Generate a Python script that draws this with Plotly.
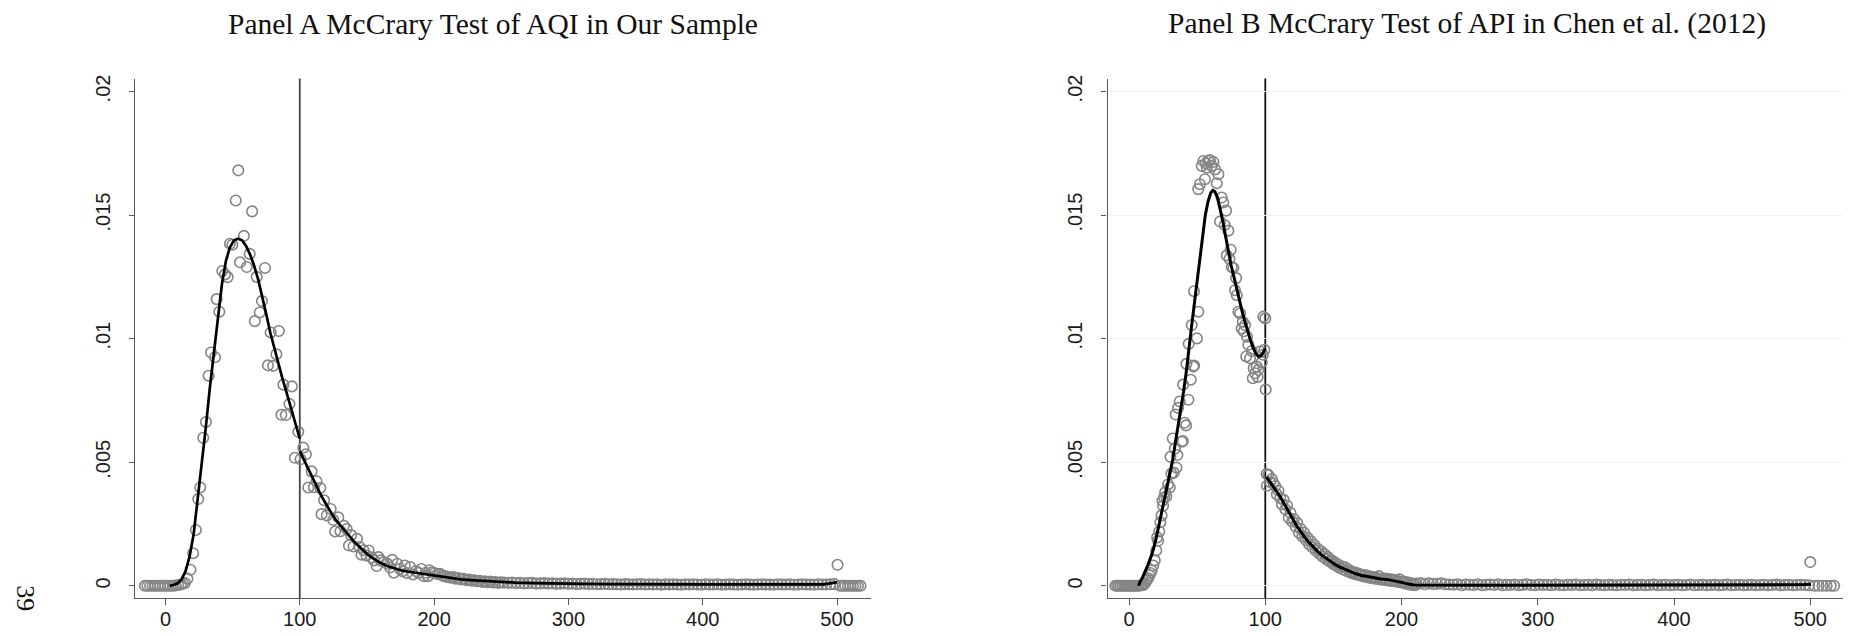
import plotly.graph_objects as go

# ---------------- Data (density values in units of 1e-4) ----------------
DENSITY_UNIT = 1e-4

# Panel A: AQI bins (x) and bin densities
a_bin_x = [-15.3, -13.4, -11.5, -9.6, -7.7, -5.8, -3.9, -2.0, -0.1, 1.8, 3.7, 5.6, 7.5, 9.4, 11.3, 12.9,
           14.5, 16.3, 18.6, 20.6, 22.6, 24.4, 25.9, 28.1, 30.1, 32.1, 33.9, 36.9, 38.1, 40.1, 42.3, 44.3,
           46.3, 48.0, 49.8, 52.3, 54.2, 55.5, 58.4, 60.5, 62.7, 64.5, 66.5, 67.9, 70.2, 71.8, 74.1, 76.3,
           78.3, 80.1, 82.6, 84.4, 86.3, 87.8, 89.6, 92.3, 94.1, 96.3, 98.9, 100.6, 102.6, 104.5, 106.3,
           108.8, 110.5, 112.5, 115.3, 116.2, 118.1, 120.1, 123.0, 124.9, 126.3, 128.7, 130.3, 132.8,
           134.9, 136.6, 138.2, 140.0, 142.6, 144.6, 145.9, 147.5, 149.6, 151.3, 153.4, 155.3, 157.3,
           158.6, 160.2, 162.5, 165.2, 167.2, 168.9, 170.0, 172.6, 174.5, 176.4, 178.2, 179.7, 182.2,
           184.3, 186.5, 188.4, 190.5, 192.5, 193.7, 195.4, 196.5, 198.5, 200.4, 202.5, 204.4, 206.4,
           208.3, 210.3, 212.3, 214.2, 216.2, 218.2, 220.1, 222.1, 224.1, 226.0, 228.0, 230.0, 231.9,
           233.9, 235.9, 237.8, 239.8, 241.8, 243.7, 245.7, 247.7, 249.6,
           252, 255, 258, 261, 264, 267, 270, 273, 276, 279, 282, 285, 288, 291, 294, 297, 300, 303,
           306, 309, 312, 315, 318, 321, 324, 327, 330, 333, 336, 339, 342, 345, 348, 351, 354, 357,
           360, 363, 366, 369, 372, 375, 378, 381, 384, 387, 390, 393, 396, 399, 402, 405, 408, 411,
           414, 417, 420, 423, 426, 429, 432, 435, 438, 441, 444, 447, 450, 453, 456, 459, 462, 465,
           468, 471, 474, 477, 480, 483, 486, 489, 492, 495, 498,
           500.4, 502.3, 504.2, 506.1, 508.0, 509.9, 511.8, 513.7, 515.6, 517.5]
a_density = [0, 0, 0, 0, 0, 0, 0, 0, 0, 0, 0, 0, 0.1, 0.3, 0.5, 0.8,
             1.1, 2.9, 6.5, 13.2, 22.6, 35.1, 39.8, 59.9, 66.3, 85.0, 94.4, 92.5, 116.0, 110.9, 127.4, 126.0,
             124.9, 138.4, 138.0, 155.9, 168.1, 130.9, 141.6, 129.0, 134.3, 151.5, 107.1, 125.0, 110.6, 115.2, 128.6, 89.2,
             102.5, 89.0, 93.7, 103.1, 69.2, 81.4, 69.1, 73.6, 80.7, 51.8, 62.3, 51.2, 55.9, 53.2, 39.8,
             46.3, 39.9, 42.3, 39.6, 29.0, 34.6, 28.5, 31.1, 26.6, 22.0, 27.7, 22.1, 24.3,
             23.0, 16.3, 20.5, 15.9, 19.0, 15.7, 12.6, 14.4, 12.3, 14.3, 11.5, 10.3, 8.0,
             11.6, 10.3, 9.6, 8.9, 7.4, 10.5, 5.3, 8.9, 6.8, 5.9, 8.2, 5.2, 7.6,
             4.6, 6.0, 5.2, 6.8, 3.9, 5.3, 3.9, 6.3, 5.5, 5.2, 4.8, 4.9, 4.1,
             3.8, 3.6, 3.3, 3.5, 2.9, 3.1, 2.6, 2.8, 2.3, 2.5, 2.1, 2.2, 1.9,
             2.0, 1.6, 1.8, 1.5, 1.7, 1.4, 1.5, 1.2, 1.4,
             1.3, 1.2, 1.3, 1.1, 1.2, 1.0, 1.1, 1.2, 0.9, 1.0, 1.1, 0.9, 1.0, 0.8, 0.9, 1.0, 0.8, 0.9,
             0.7, 0.8, 0.9, 0.7, 0.8, 0.6, 0.7, 0.8, 0.6, 0.7, 0.6, 0.5, 0.7, 0.6, 0.5, 0.6, 0.7, 0.5,
             0.6, 0.5, 0.6, 0.4, 0.6, 0.5, 0.6, 0.5, 0.4, 0.6, 0.5, 0.6, 0.5, 0.4, 0.6, 0.5, 0.5, 0.6,
             0.4, 0.5, 0.6, 0.5, 0.4, 0.5, 0.6, 0.5, 0.4, 0.5, 0.6, 0.5, 0.5, 0.4, 0.6, 0.5, 0.5, 0.6,
             0.4, 0.5, 0.6, 0.5, 0.5, 0.4, 0.6, 0.5, 0.5, 0.6, 0.7,
             8.5, 0, 0, 0, 0, 0, 0, 0, 0, 0]

# Panel A: fitted density, left and right of the cutoff
a_fit_left_x = [3, 6, 9, 12, 15, 18, 21, 24, 27, 30, 33, 36, 39, 42, 45, 48, 51, 54, 57, 60, 63, 66,
                69, 72, 75, 78, 81, 84, 87, 90, 93, 96, 99, 100]
a_fit_left_y = [0.0, 0.3, 1.0, 2.6, 6.0, 12.0, 21.0, 35.0, 50.0, 64.0, 80.0, 94.0, 109.0, 122.0, 131.5,
                137.0, 139.8, 140.4, 139.8, 137.5, 134.0, 129.5, 124.0, 117.5, 110.0, 102.5, 96.0, 90.0,
                84.0, 78.5, 73.0, 67.0, 61.5, 59.5]
a_fit_right_x = [100, 103, 106, 109, 112, 115, 118, 121, 124, 127, 130, 133, 136, 139, 142, 145, 148,
                 151, 154, 157, 160, 165, 170, 175, 180, 185, 190, 195, 200, 205, 210, 215, 220, 230,
                 240, 250, 260, 275, 290, 310, 330, 350, 400, 450, 490, 495, 500]
a_fit_right_y = [54.5, 51.0, 47.5, 44.0, 40.5, 37.5, 34.5, 31.5, 29.0, 26.5, 24.5, 22.5, 20.5, 18.8,
                 17.0, 15.4, 13.9, 12.5, 11.3, 10.2, 9.3, 8.0, 7.0, 6.3, 5.8, 5.4, 5.0, 4.7, 4.3, 3.7,
                 3.2, 2.9, 2.6, 2.2, 1.8, 1.5, 1.3, 1.1, 0.9, 0.8, 0.7, 0.6, 0.55, 0.55, 0.6, 1.0, 1.5]

# Panel B: API bins (x) and bin densities
b_bin_x = [-10.0, -8.7, -7.4, -6.1, -4.8, -3.5, -2.2, -0.9, 0.4, 1.7, 3.0, 4.3, 5.6, 6.9, 8.2, 9.5,
           10.5, 11.7, 12.9, 14.0, 14.9, 15.8, 16.6, 17.8, 18.9, 20.0, 20.6, 21.3, 22.2, 23.0, 23.9,
           24.5, 25.0, 25.7, 26.5, 27.4, 28.6, 29.9, 30.4, 31.1, 32.1, 32.8, 33.6, 34.2, 34.8, 35.5,
           36.0, 37.2, 38.7, 39.5, 39.7, 40.8, 41.9, 42.1, 43.6, 43.8, 45.3, 46.0, 47.2, 47.7, 47.8,
           49.8, 50.9,
           50.8, 52.0, 53.4, 54.6, 55.7, 56.4, 57.1, 58.2, 59.4, 60.7, 61.9, 63.2, 64.4, 65.6, 66.8,
           68.0, 69.2, 70.2, 71.2, 71.7, 72.9, 73.7, 74.6, 75.4, 76.6, 77.8, 78.6, 79.1, 80.3, 81.5,
           82.7, 83.5, 84.3, 85.2, 86.0, 86.6, 87.6, 88.8, 90.1, 90.8, 91.5, 92.5, 93.7, 94.4, 94.9,
           96.2, 97.4, 98.2, 98.6, 99.4, 100.0, 100.3,
           101.0, 101.2, 102.3, 103.5, 104.8, 106.0, 107.3, 108.5, 109.7, 111.0, 112.2, 113.5, 114.7,
           116.0, 117.2, 118.5, 119.7, 121.0, 122.2, 123.5, 124.7, 126.0, 127.2, 128.5, 129.7, 131.0,
           132.2, 133.5, 134.7, 136.0, 137.2, 138.5, 139.7, 141.0, 142.2, 143.5, 144.7, 146.0, 147.2,
           148.5, 149.7, 151.0, 152.2, 153.5, 154.7, 156.0, 157.2, 158.5, 159.7, 161.0, 162.2, 163.5,
           164.7, 166.0, 167.2, 168.5, 169.7, 171.0, 172.2, 173.5, 174.7, 176.0, 177.2, 178.5, 179.7,
           181.0, 182.2, 183.5, 184.7, 186.0, 187.2, 188.5, 189.7, 191.0, 192.2, 193.5, 194.7, 196.0,
           197.2, 198.5, 199.7, 201.0, 202.2, 203.5, 204.7, 206.0, 207.2, 208.5, 210.0,
           211, 214, 217, 220, 223, 226, 229, 232, 235, 238, 241, 244, 247, 250, 253, 256, 259, 262,
           265, 268, 271, 274, 277, 280, 283, 286, 289, 292, 295, 298, 301, 304, 307, 310, 313, 316,
           319, 322, 325, 328, 331, 334, 337, 340, 343, 346, 349, 352, 355, 358, 361, 364, 367, 370,
           373, 376, 379, 382, 385, 388, 391, 394, 397, 400, 403, 406, 409, 412, 415, 418, 421, 424,
           427, 430, 433, 436, 439, 442, 445, 448, 451, 454, 457, 460, 463, 466, 469, 472, 475, 478,
           481, 484, 487, 490, 493, 496, 499,
           500.0, 503, 506, 509, 512, 515, 517.5]
b_density = [0, 0, 0, 0, 0, 0, 0, 0, 0, 0, 0, 0, 0, 0, 0.1, 0.2,
             0.3, 1.0, 2.2, 3.0, 4.2, 5.2, 6.2, 8.2, 10.3, 14.3, 19.6, 18.2, 22.0, 25.7, 28.5,
             34.4, 32.4, 35.7, 37.8, 36.1, 41.0, 39.8, 52.2, 45.4, 59.6, 45.8, 55.5, 69.3, 47.8, 52.9,
             72.0, 74.6, 58.3, 58.6, 81.4, 66.0, 64.9, 89.8, 75.3, 97.9, 83.4, 105.5, 88.7, 119.2, 89.1,
             100.1, 110.9,
             160.5, 162.5, 169.9, 171.9, 164.5, 171.0, 169.2, 171.9, 172.3, 169.9, 171.5, 168.5, 162.9, 166.5, 147.4,
             157.1, 155.1, 146.0, 151.8, 133.7, 143.7, 132.3, 136.0, 129.0, 128.6, 119.6, 124.5, 117.6, 110.9, 110.2,
             104.1, 106.8, 103.0, 105.5, 92.8, 100.8, 97.5, 92.1, 95.0, 84.0, 88.0, 86.0, 88.7, 84.5, 87.4,
             94.8, 90.5, 93.5, 108.9, 95.5, 108.2, 79.4,
             45.2, 40.5, 44.8, 42.0, 43.2, 41.5, 40.4, 37.0, 38.5, 35.5, 33.0, 34.8, 31.0,
             32.5, 27.5, 29.5, 26.0, 27.0, 24.0, 25.5, 21.5, 23.0, 20.0, 21.5, 18.5, 19.5,
             16.8, 18.0, 15.5, 16.5, 14.2, 15.0, 13.0, 14.0, 11.8, 12.8, 10.8, 11.6, 9.8,
             10.4, 8.8, 9.5, 8.0, 8.6, 7.2, 7.9, 6.6, 7.5, 6.0, 6.6, 5.4, 5.8,
             4.9, 5.4, 4.5, 5.0, 4.2, 4.5, 3.8, 4.4, 3.5, 3.9, 3.2, 3.6, 3.0,
             3.4, 2.8, 3.9, 2.6, 3.0, 2.4, 2.9, 2.2, 2.7, 2.0, 2.5, 1.9, 2.3,
             1.6, 2.6, 1.4, 1.8, 1.0, 1.5, 0.6, 1.2, 0.3, 0.8, 0.2,
             0.9, 1.1, 0.6, 1.0, 0.7, 0.8, 1.0, 0.6, 0.5, 0.4, 0.6, 0.2, 0.5, 0.4, 0.3, 0.6, 0.2, 0.4,
             0.5, 0.3, 0.6, 0.2, 0.4, 0.3, 0.5, 0.2, 0.4, 0.6, 0.3, 0.2, 0.5, 0.3, 0.4, 0.2, 0.5, 0.3,
             0.2, 0.4, 0.3, 0.5, 0.2, 0.3, 0.4, 0.2, 0.5, 0.3, 0.2, 0.4, 0.3, 0.2, 0.4, 0.3, 0.5, 0.2,
             0.3, 0.4, 0.2, 0.3, 0.5, 0.2, 0.3, 0.4, 0.2, 0.3, 0.4, 0.2, 0.3, 0.5, 0.2, 0.3, 0.4, 0.2,
             0.3, 0.4, 0.2, 0.3, 0.5, 0.2, 0.3, 0.4, 0.2, 0.3, 0.4, 0.2, 0.3, 0.4, 0.2, 0.3, 0.5, 0.2,
             0.3, 0.4, 0.2, 0.3, 0.4, 0.3, 0.2,
             9.6, 0, 0, 0, 0, 0, 0]

# Panel B: fitted density, left and right of the cutoff
b_fit_left_x = [7, 8, 10, 12, 14, 16, 18, 20, 22, 24, 26, 28, 30, 32, 34, 36, 38, 40, 42, 44, 46, 48,
                50, 52, 54, 56, 58, 60, 61.5, 63, 65, 67, 69, 71, 73, 75, 77, 79, 81, 83, 85, 87, 89,
                91, 93, 95, 97, 99, 100]
b_fit_left_y = [0.0, 1.5, 3.5, 5.8, 8.6, 11.6, 15.0, 19.5, 25.0, 30.5, 36.0, 41.0, 45.5, 51.0, 57.5,
                64.5, 71.5, 78.5, 86.5, 95.0, 105.5, 114.5, 123.5, 132.5, 141.5, 150.0, 155.5, 159.0,
                160.0, 159.5, 157.0, 152.5, 147.0, 141.0, 135.0, 129.5, 125.0, 120.0, 115.5, 111.0,
                107.0, 103.0, 99.5, 96.5, 94.0, 92.8, 93.2, 95.0, 96.0]
b_fit_right_x = [101, 103, 105, 107, 109, 111, 113, 115, 117, 119, 121, 123, 125, 127, 129, 131, 133,
                 136, 139, 142, 145, 148, 151, 154, 157, 160, 165, 170, 175, 180, 185, 190, 195, 200,
                 205, 209, 250, 300, 350, 400, 450, 490, 495, 500.5]
b_fit_right_y = [44.0, 42.5, 40.8, 39.0, 37.5, 36.0, 34.0, 32.0, 30.0, 28.0, 26.0, 24.3, 22.7, 21.0,
                 19.6, 18.2, 17.0, 15.2, 13.6, 12.2, 11.0, 9.8, 8.7, 7.8, 7.0, 6.2, 5.1, 4.3, 3.7,
                 3.2, 2.8, 2.5, 2.1, 1.4, 0.7, 0.3, 0.2, 0.2, 0.2, 0.2, 0.2, 0.25, 0.5, 0.6]

cutoff = 100
y_tick_vals = [0, 0.005, 0.01, 0.015, 0.02]
y_tick_text = ["0", ".005", ".01", ".015", ".02"]
x_tick_vals = [0, 100, 200, 300, 400, 500]
x_tick_text = ["0", "100", "200", "300", "400", "500"]

panel_titles = ["Panel A McCrary Test of AQI in Our Sample",
                "Panel B McCrary Test of API in Chen et al. (2012)"]
page_number = "39"


def scale(vals):
    return [v * DENSITY_UNIT for v in vals]


# ---------------- Figure ----------------
# The page body has an 8px default margin, so the figure is sized to fill the
# remaining window and page positions are shifted by that offset.
OFF = 8
W, H = 1854 - OFF, 636 - OFF


def px_x(p):
    return (p - OFF) / W


def px_y(p):
    return 1 - (p - OFF) / H


fig = go.Figure()

MARKER = dict(symbol="circle-open", size=10.5, color="#858585", line=dict(width=1.6, color="#858585"))
LINE_A = dict(color="black", width=2.7)
LINE_B = dict(color="black", width=3.0)

fig.add_trace(go.Scatter(x=a_bin_x, y=scale(a_density), mode="markers", marker=MARKER,
                         xaxis="x", yaxis="y", showlegend=False))
fig.add_trace(go.Scatter(x=a_fit_left_x, y=scale(a_fit_left_y), mode="lines", line=LINE_A,
                         xaxis="x", yaxis="y", showlegend=False))
fig.add_trace(go.Scatter(x=a_fit_right_x, y=scale(a_fit_right_y), mode="lines", line=LINE_A,
                         xaxis="x", yaxis="y", showlegend=False))

fig.add_trace(go.Scatter(x=b_bin_x, y=scale(b_density), mode="markers", marker=MARKER,
                         xaxis="x2", yaxis="y2", showlegend=False))
fig.add_trace(go.Scatter(x=b_fit_left_x, y=scale(b_fit_left_y), mode="lines", line=LINE_B,
                         xaxis="x2", yaxis="y2", showlegend=False))
fig.add_trace(go.Scatter(x=b_fit_right_x, y=scale(b_fit_right_y), mode="lines", line=LINE_B,
                         xaxis="x2", yaxis="y2", showlegend=False))

AX_COLOR = "#5a5a5a"
TICK_FONT = dict(family="Liberation Sans, Arial, sans-serif", size=20, color="#1a1a1a")

y_dom = [px_y(598), px_y(75)]
y_range = [-0.000503, 0.020523]


def xaxis(domain, rng, anchor):
    return dict(domain=domain, range=rng, anchor=anchor, showline=True, linecolor=AX_COLOR,
                linewidth=1.3, ticks="outside", ticklen=6, tickwidth=1.3, tickcolor=AX_COLOR,
                tickvals=x_tick_vals, ticktext=x_tick_text, tickfont=TICK_FONT, showgrid=False,
                zeroline=False, ticklabelstandoff=-3)


def yaxis(rng, anchor, grid):
    return dict(domain=y_dom, range=rng, anchor=anchor, showline=True, linecolor=AX_COLOR,
                linewidth=1.3, ticks="outside", ticklen=5, tickwidth=1.3, tickcolor=AX_COLOR,
                tickvals=y_tick_vals, ticktext=y_tick_text, tickangle=-90, tickfont=TICK_FONT,
                showgrid=grid, gridcolor="#f2f2f2", gridwidth=1, zeroline=False,
                ticklabelstandoff=11)


fig.update_layout(
    width=W, height=H,
    margin=dict(l=0, r=0, t=0, b=0),
    paper_bgcolor="white", plot_bgcolor="white",
    xaxis=xaxis([px_x(135), px_x(871)], [-22.7, 525.3], "y"),
    yaxis=yaxis(y_range, "x", False),
    xaxis2=xaxis([px_x(1107.5), px_x(1843)], [-15.8, 524.0], "y2"),
    yaxis2=yaxis(y_range, "x2", True),
    showlegend=False,
)

# cutoff lines
fig.add_shape(type="line", xref="x", yref="y domain", x0=cutoff, x1=cutoff, y0=0, y1=1,
              line=dict(color="#444444", width=1.8), layer="below")
fig.add_shape(type="line", xref="x2", yref="y2 domain", x0=cutoff, x1=cutoff, y0=0, y1=1,
              line=dict(color="#111111", width=1.8), layer="below")

TITLE_FONT = dict(family="Liberation Serif, Times New Roman, serif", size=29.5, color="#111")
fig.add_annotation(text=panel_titles[0], xref="paper", yref="paper", x=px_x(493.5), y=px_y(20),
                   xanchor="center", yanchor="middle", showarrow=False, font=TITLE_FONT,
                   borderpad=0)
fig.add_annotation(text=panel_titles[1], xref="paper", yref="paper", x=px_x(1466.7), y=px_y(20),
                   xanchor="center", yanchor="middle", showarrow=False, font=TITLE_FONT,
                   borderpad=0)
fig.add_annotation(text=page_number, xref="paper", yref="paper", x=px_x(26), y=px_y(598),
                   xanchor="center", yanchor="middle", showarrow=False, textangle=90,
                   font=dict(family="Liberation Serif, serif", size=26, color="#111"))

fig.write_html("out.html")
